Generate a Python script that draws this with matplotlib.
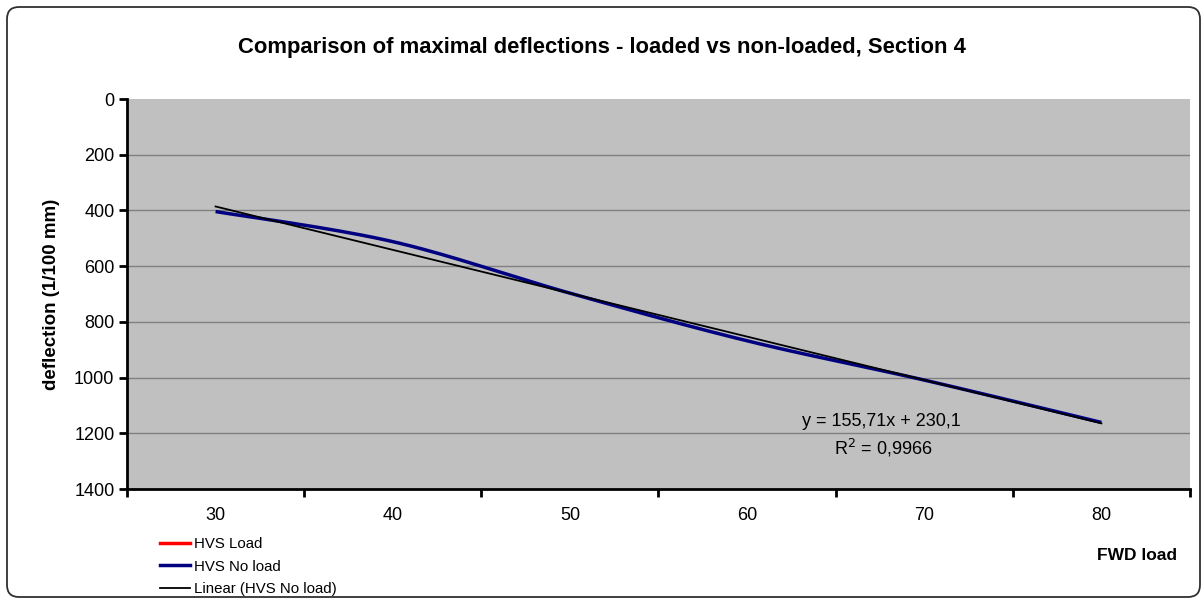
import numpy as np
import matplotlib
matplotlib.use('Agg')
import matplotlib.pyplot as plt
from matplotlib.patches import FancyBboxPatch
from matplotlib.lines import Line2D

plt.rcParams['font.family'] = ['Liberation Sans', 'DejaVu Sans']

########## Data ##########
fwd_load = ['30', '40', '50', '60', '70', '80']
hvs_load = []                                         # series is empty in the chart
hvs_no_load = [404, 512, 697, 868, 1009, 1161]
trend_slope = 155.71
trend_icpt = 230.1
trend_r2 = 0.9966
y_ticks = [0, 200, 400, 600, 800, 1000, 1200, 1400]


def smooth_line(xs, ys, n = 30):
    # Excel style smoothed line : Catmull-Rom via cubic Bezier segments
    xs = np.asarray(xs, float)
    ys = np.asarray(ys, float)
    px = np.concatenate([[xs[0]], xs, [xs[-1]]])
    py = np.concatenate([[ys[0]], ys, [ys[-1]]])
    out_x , out_y = [] , []
    t = np.linspace(0, 1, n)
    for i in range(1, len(xs)):
        p0 = np.array([px[i], py[i]])
        p3 = np.array([px[i + 1], py[i + 1]])
        c1 = p0 + (p3 - np.array([px[i - 1], py[i - 1]])) / 6
        c2 = p3 - (np.array([px[i + 2], py[i + 2]]) - p0) / 6
        b = ((1 - t) ** 3)[:, None] * p0 + (3 * (1 - t) ** 2 * t)[:, None] * c1 \
            + (3 * (1 - t) * t ** 2)[:, None] * c2 + (t ** 3)[:, None] * p3
        out_x.extend(b[:, 0])
        out_y.extend(b[:, 1])
    return out_x , out_y


W , H = 1203 , 599
fig = plt.figure(figsize = (W / 100, H / 100), dpi = 100)
fig.patch.set_facecolor('white')

# chart area border
border = FancyBboxPatch((7, 2), 1193, 590, boxstyle = 'round,pad=0,rounding_size=12',
                        transform = None, facecolor = 'none', edgecolor = '#303030', linewidth = 1.3)
fig.add_artist(border)

ax = fig.add_axes([127 / W, 1 - 489 / H, (1190 - 127) / W, (489 - 99) / H])
ax.set_facecolor('#C0C0C0')

xpos = np.arange(1, len(fwd_load) + 1)

# gridlines (no line on the top edge)
for v in y_ticks[1:-1]:
    ax.axhline(v, color = '#808080', linewidth = 1, zorder = 1)

# series
if len(hvs_load) > 0:
    ax.plot(xpos[:len(hvs_load)], hvs_load, color = '#FF0000', linewidth = 2.5, zorder = 3)
sx , sy = smooth_line(xpos, hvs_no_load)
ax.plot(sx, sy, color = '#000080', linewidth = 2.5, zorder = 3, solid_capstyle = 'butt')
trend = trend_slope * xpos + trend_icpt
ax.plot(xpos, trend, color = 'black', linewidth = 1.3, zorder = 4)

ax.set_xlim(0.5, len(fwd_load) + 0.5)
ax.set_ylim(1400, 0)
ax.set_yticks(y_ticks)
ax.set_yticklabels([str(v) for v in y_ticks])
ax.set_xticks(xpos)
ax.set_xticklabels(fwd_load)
ax.set_xticks(np.arange(0.5, len(fwd_load) + 1), minor = True)
ax.tick_params(axis = 'x', which = 'major', length = 0, pad = 13, labelsize = 13)
ax.tick_params(axis = 'x', which = 'minor', length = 6, width = 2, direction = 'out')
ax.tick_params(axis = 'y', length = 6, width = 2, direction = 'out', pad = 3, labelsize = 13)
for s in ['top', 'right']:
    ax.spines[s].set_visible(False)
for s in ['left', 'bottom']:
    ax.spines[s].set_linewidth(2)

ax.set_ylabel('deflection (1/100 mm)', fontsize = 13.5, fontweight = 'bold', labelpad = 10)

fig.text(0.5, 1 - 47 / H, 'Comparison of maximal deflections - loaded vs non-loaded, Section 4',
         ha = 'center', va = 'center', fontsize = 15.8, fontweight = 'bold')
fig.text(1177 / W, 1 - 556 / H, 'FWD load', ha = 'right', va = 'center', fontsize = 12.5, fontweight = 'bold')

# trendline equation
fig.text(881 / W, 1 - 422 / H, 'y = 155,71x + 230,1', ha = 'center', va = 'center', fontsize = 13)
fig.text(883 / W, 1 - 448 / H, 'R$^2$ = 0,9966', ha = 'center', va = 'center', fontsize = 13)

handles = [Line2D([], [], color = '#FF0000', linewidth = 2.5),
           Line2D([], [], color = '#000080', linewidth = 2.5),
           Line2D([], [], color = 'black', linewidth = 1.3)]
fig.legend(handles, ['HVS Load', 'HVS No load', 'Linear (HVS No load)'],
           loc = 'upper left', bbox_to_anchor = (160 / W, 1 - 537 / H), frameon = False,
           fontsize = 10.8, handlelength = 2.0, handletextpad = 0.25, labelspacing = 0.58,
           borderpad = 0, borderaxespad = 0)

fig.savefig('out.png', dpi = 100)
